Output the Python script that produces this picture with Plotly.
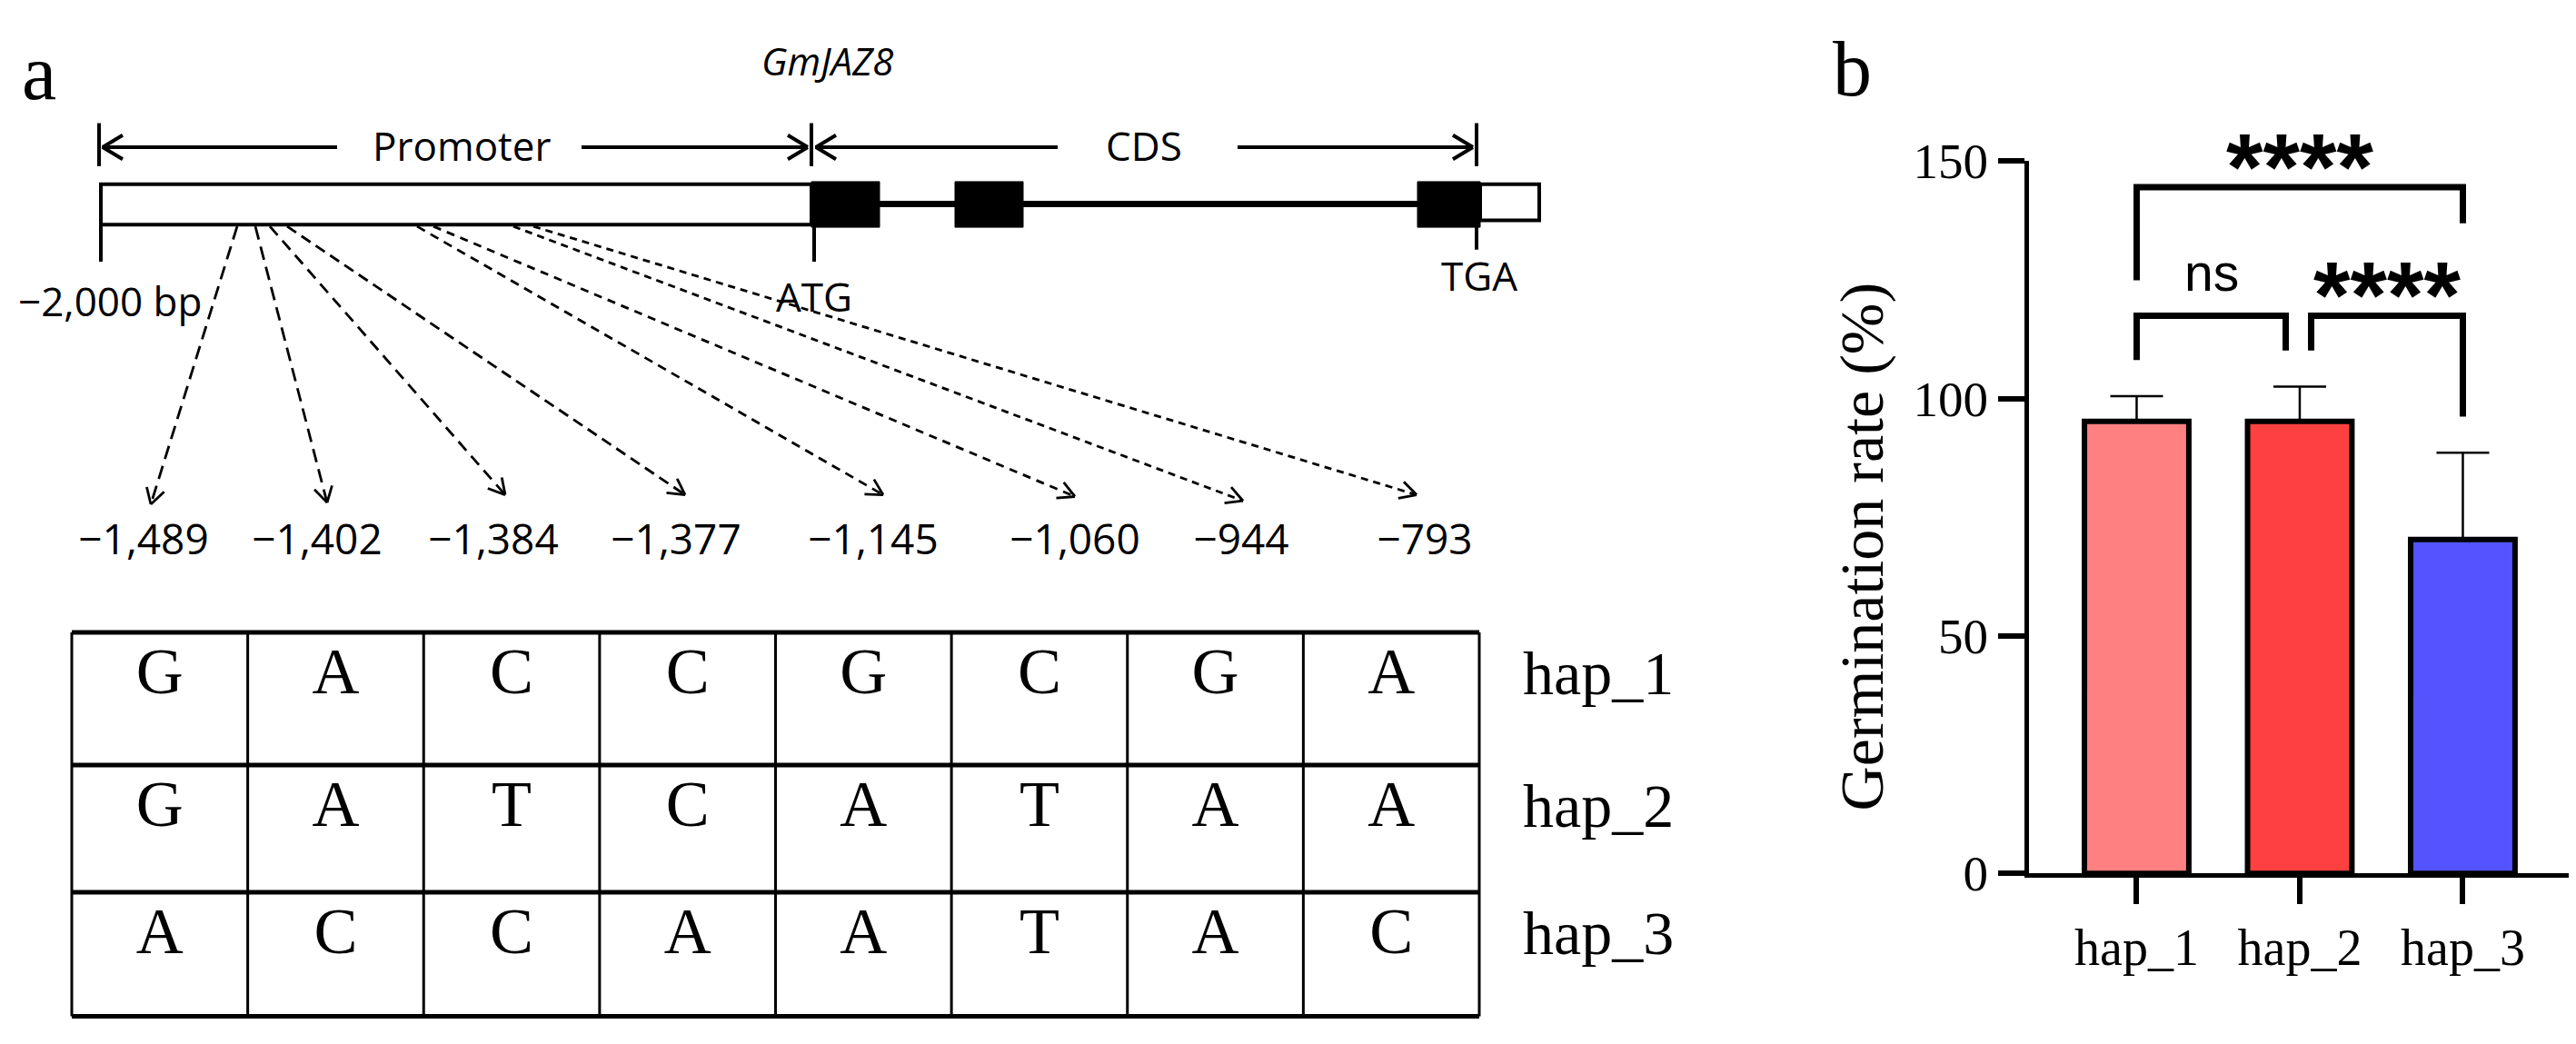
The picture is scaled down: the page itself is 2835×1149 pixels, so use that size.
import math
import plotly.graph_objects as go

W, H = 2835, 1149

# ---------------- data ----------------
snp_labels = ["−1,489", "−1,402", "−1,384", "−1,377", "−1,145", "−1,060", "−944", "−793"]
hap_names = ["hap_1", "hap_2", "hap_3"]
hap1_alleles = ["G", "A", "C", "C", "G", "C", "G", "A"]
hap2_alleles = ["G", "A", "T", "C", "A", "T", "A", "A"]
hap3_alleles = ["A", "C", "C", "A", "A", "T", "A", "C"]
germ_mean = [95.2, 95.2, 70.3]
germ_sd = [5.3, 7.3, 18.3]
bar_colors = ["#FF8080", "#FF4040", "#5454FF"]
y_ticks = [0, 50, 100, 150]
comparisons = [(0, 2, "****"), (0, 1, "ns"), (1, 2, "****")]

# ---------------- layout geometry (pixel space for panel a) ----------------
SANS = "Open Sans, Lato, Liberation Sans, sans-serif"
SERIF = "Liberation Serif, Times New Roman, serif"

box_x0, box_x1, box_y0, box_y1 = 103, 885, 174, 221
exons = [(885, 960), (1043, 1118), (1552, 1621)]
exon_y0, exon_y1 = 171, 224
utr = (1621, 1686, 174, 216)
intron_y = 197
dim_y = 131
snp_start_x = [253, 273, 289, 308, 451, 469, 557, 579]
snp_tip = [(158, 546), (352, 544), (548, 535), (746, 535), (964, 535), (1175, 537), (1360, 542), (1551, 535)]
snp_dash = ["15px,8px", "15px,8px", "13px,8px", "12px,7px", "10px,7px", "9px,7px", "8px,6px", "8px,6px"]
snp_label_x = [150, 341, 535, 736, 953, 1175, 1358, 1560]
snp_label_y = 592

tab_x0, tab_x1 = 71, 1620
tab_rows = [695, 849, 997, 1141]

shapes = []
annotations = []


def line(x0, y0, x1, y1, w=4, dash=None, color="black"):
    d = dict(type="line", xref="x", yref="y", x0=x0, y0=y0, x1=x1, y1=y1,
             line=dict(color=color, width=w))
    if dash:
        d["line"]["dash"] = dash
    shapes.append(d)


def vhead(tx, ty, dx, dy, L, Wd, w):
    n = math.hypot(dx, dy)
    ux, uy = dx / n, dy / n
    px, py = -uy, ux
    bx, by = tx - L * ux, ty - L * uy
    line(tx, ty, bx + Wd * px, by + Wd * py, w)
    line(tx, ty, bx - Wd * px, by - Wd * py, w)


# dimension lines
for xb, yb0 in ((101, 103), (885, 103), (1617, 103)):
    line(xb, yb0, xb, 153, 4)
line(104, dim_y, 363, dim_y, 4)
vhead(105, dim_y, -1, 0, 22, 14, 4)
line(632, dim_y, 881, dim_y, 4)
vhead(881, dim_y, 1, 0, 22, 14, 4)
line(889, dim_y, 1156, dim_y, 4)
vhead(890, dim_y, -1, 0, 22, 14, 4)
line(1354, dim_y, 1613, dim_y, 4)
vhead(1613, dim_y, 1, 0, 22, 14, 4)

# gene structure
line(960, intron_y, 1552, intron_y, 7)
shapes.append(dict(type="rect", xref="x", yref="y", x0=box_x0, x1=box_x1, y0=box_y0, y1=box_y1,
                   fillcolor="white", line=dict(color="black", width=4)))
for ex0, ex1 in exons:
    shapes.append(dict(type="rect", xref="x", yref="y", x0=ex0, x1=ex1, y0=exon_y0, y1=exon_y1,
                       fillcolor="black", line=dict(color="black", width=1)))
shapes.append(dict(type="rect", xref="x", yref="y", x0=utr[0], x1=utr[1], y0=utr[2], y1=utr[3],
                   fillcolor="white", line=dict(color="black", width=4)))
line(103, box_y1, 103, 264, 4)
line(888, exon_y1, 888, 264, 4)
line(1617, utr[3], 1617, 250, 4)

# dashed SNP arrows
for sx, (tx, ty), dsh in zip(snp_start_x, snp_tip, snp_dash):
    line(sx, box_y1 + 2, tx, ty, 2.8, dash=dsh)
    vhead(tx, ty, tx - sx, ty - box_y1, 18, 10, 2.8)

# table grid
col_w = (tab_x1 - tab_x0) / len(snp_labels)
for yr in tab_rows:
    line(tab_x0, yr, tab_x1, yr, 5)
for i in range(len(snp_labels) + 1):
    xc = tab_x0 + i * col_w
    line(xc, tab_rows[0], xc, tab_rows[-1], 3)


def ann(x, y, text, size, family=SANS, **kw):
    d = dict(x=x, y=y, xref="x", yref="y", text=text, showarrow=False,
             font=dict(family=family, size=size, color="black"))
    d.update(kw)
    annotations.append(d)


ann(35, 44, "a", 86, SERIF)
ann(902, 30, "<i>GmJAZ8</i>", 42)
ann(500, dim_y - 2, "Promoter", 44)
ann(1251, dim_y - 2, "CDS", 44)
ann(113, 309, "−2,000 bp", 44)
ann(888, 304, "ATG", 44)
ann(1620, 280, "TGA", 44)
ann(2030, 40, "b", 86, SERIF)
ann(2041, 595, "Germination rate (%)", 68, SERIF, textangle=-90)

fig = go.Figure()

# SNP position labels
fig.add_trace(go.Scatter(x=snp_label_x, y=[snp_label_y] * len(snp_labels), text=snp_labels,
                         mode="text", textposition="middle center",
                         textfont=dict(family=SANS, size=46, color="black"),
                         xaxis="x", yaxis="y", hoverinfo="skip", showlegend=False))

# table letters
col_centers = [tab_x0 + (i + 0.5) * col_w for i in range(len(snp_labels))]
for r, alleles in enumerate([hap1_alleles, hap2_alleles, hap3_alleles]):
    ty = tab_rows[r] + 52
    fig.add_trace(go.Scatter(x=col_centers, y=[ty] * len(alleles), text=alleles, mode="text",
                             textposition="middle center",
                             textfont=dict(family=SERIF, size=72, color="black"),
                             xaxis="x", yaxis="y", hoverinfo="skip", showlegend=False))
fig.add_trace(go.Scatter(x=[1668] * 3, y=[tab_rows[r] + 54 for r in range(3)], text=hap_names,
                         mode="text", textposition="middle right",
                         textfont=dict(family=SERIF, size=68, color="black"),
                         xaxis="x", yaxis="y", hoverinfo="skip", showlegend=False))

# ---------------- panel b ----------------
axis_px = 2225
cat_px = 179.5
x_lo = -0.66
x_hi = 2.69
y0_px, y150_px = 975, 147
ppu = (y0_px - y150_px) / 150.0
xd = [axis_px / W, min(1.0, (axis_px + (x_hi - x_lo) * cat_px) / W)]
yd2 = [(H - y0_px) / H, (H - y150_px) / H]
top3 = 170
yd3 = [(H - y0_px) / H, (H - (y0_px - top3 * ppu)) / H]

cats = list(range(len(hap_names)))
fig.add_trace(go.Bar(x=cats, y=germ_mean, width=0.64,
                     marker=dict(color=bar_colors, line=dict(color="black", width=6)),
                     error_y=dict(type="data", array=germ_sd, arrayminus=[0] * 3, symmetric=False,
                                  color="black", thickness=2.5, width=29),
                     xaxis="x2", yaxis="y2", showlegend=False))

# significance brackets
bracket_levels = [(124.9, 144.5, 136.9), (108.1, 117.4, 110.1), (110.1, 117.4, 96.2)]
bracket_x = [(0, 2), (0, 0.914), (1.07, 2)]
label_pos = [(1, 153.2), (0.46, 126.6), (1.535, 126.3)]
for (a, b, lab), (l0, h, l1), (bx0, bx1), (lx, ly) in zip(comparisons, bracket_levels, bracket_x, label_pos):
    fig.add_trace(go.Scatter(x=[bx0, bx0, bx1, bx1], y=[l0, h, h, l1], mode="lines",
                             line=dict(color="black", width=7), xaxis="x3", yaxis="y3",
                             hoverinfo="skip", showlegend=False))
    if lab == "ns":
        annotations.append(dict(x=lx, y=ly, xref="x3", yref="y3", text=lab, showarrow=False,
                                font=dict(family="Liberation Sans, Arial, sans-serif", size=57, color="black")))
    else:
        annotations.append(dict(x=lx, y=ly, xref="x3", yref="y3", text="<b>" + lab + "</b>",
                                showarrow=False, yshift=-24,
                                font=dict(family="Liberation Sans, Arial, sans-serif", size=104, color="black")))

fig.update_layout(
    width=W, height=H, margin=dict(l=0, r=0, t=0, b=0),
    paper_bgcolor="white", plot_bgcolor="rgba(0,0,0,0)",
    xaxis=dict(domain=[0, 1], range=[0, W], visible=False, anchor="y"),
    yaxis=dict(domain=[0, 1], range=[H, 0], visible=False, anchor="x"),
    xaxis2=dict(domain=xd, range=[x_lo, x_hi], anchor="y2", tickvals=cats, ticktext=hap_names,
                ticks="outside", ticklen=29, tickwidth=6, tickcolor="black",
                showline=True, linewidth=5, linecolor="black", showgrid=False, zeroline=False,
                tickfont=dict(family=SERIF, size=56, color="black")),
    yaxis2=dict(domain=yd2, range=[0, 150], anchor="x2", tickvals=y_ticks,
                ticks="outside", ticklen=29, tickwidth=6, tickcolor="black",
                showline=True, linewidth=5, linecolor="black", showgrid=False, zeroline=False,
                tickfont=dict(family=SERIF, size=55, color="black")),
    xaxis3=dict(domain=xd, range=[x_lo, x_hi], anchor="y3", visible=False),
    yaxis3=dict(domain=yd3, range=[0, top3], anchor="x3", visible=False),
    shapes=shapes, annotations=annotations,
)

fig.write_html("out.html")
